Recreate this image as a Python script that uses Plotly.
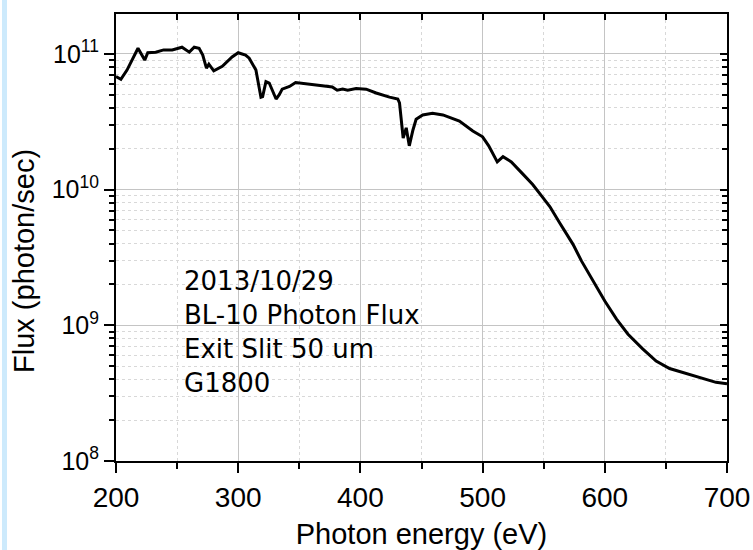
import plotly.graph_objects as go

energy_ev = [200, 204, 209, 218, 223.5, 226, 232.5, 239, 246, 254, 260, 264, 268, 271, 274, 276,
             280, 287, 295, 300, 306, 309, 314.5, 317, 318.6, 320, 322.7, 325.4, 328, 331, 333.6,
             336, 342, 347, 363.7, 377, 381, 385.5, 389.6, 396.5, 404.7, 412.9, 423.8, 430.6, 432,
             434, 435, 437.5, 440, 443, 445.6, 451, 459, 467.5, 481, 492, 500, 505, 512, 516.7,
             523.5, 533, 541, 549.5, 555, 563, 574, 581, 590.4, 600, 609.6, 619, 631, 642, 653,
             664, 680, 691, 700]
flux = [6.8e10, 6.5e10, 7.6e10, 1.10e11, 9.0e10, 1.02e11, 1.03e11, 1.07e11, 1.07e11, 1.12e11,
        1.03e11, 1.12e11, 1.10e11, 9.8e10, 7.85e10, 8.4e10, 7.5e10, 8.1e10, 9.5e10, 1.02e11,
        9.8e10, 9.3e10, 7.6e10, 5.75e10, 4.8e10, 4.85e10, 6.25e10, 6.1e10, 5.3e10, 4.65e10,
        5.0e10, 5.5e10, 5.75e10, 6.15e10, 5.9e10, 5.7e10, 5.4e10, 5.5e10, 5.4e10, 5.55e10,
        5.5e10, 5.15e10, 4.8e10, 4.65e10, 4.35e10, 3.1e10, 2.4e10, 2.85e10, 2.1e10, 2.75e10,
        3.3e10, 3.55e10, 3.65e10, 3.55e10, 3.2e10, 2.7e10, 2.45e10, 2.1e10, 1.6e10, 1.75e10,
        1.6e10, 1.3e10, 1.09e10, 8.7e9, 7.5e9, 5.7e9, 3.95e9, 2.97e9, 2.12e9, 1.51e9, 1.11e9,
        8.6e8, 6.7e8, 5.45e8, 4.8e8, 4.5e8, 4.1e8, 3.8e8, 3.7e8]

note_lines = ["2013/10/29", "BL-10 Photon Flux", "Exit Slit 50 um", "G1800"]
x_title = "Photon energy (eV)"
y_title = "Flux (photon/sec)"

x_major_vals = [200, 300, 400, 500, 600, 700]
x_minor_vals = [250, 350, 450, 550, 650]
x_all_vals = list(range(200, 701, 50))
y_major_vals = [1e8, 1e9, 1e10, 1e11]
y_major_text = ["10<sup>8</sup>", "10<sup>9</sup>", "10<sup>10</sup>", "10<sup>11</sup>"]
y_minor_vals = [k * 10 ** n for n in range(8, 11) for k in range(2, 10)]

fig = go.Figure()
fig.add_trace(go.Scatter(x=energy_ev, y=flux, mode="lines",
                         line=dict(color="black", width=3), showlegend=False,
                         hoverinfo="x+y"))
# invisible trace so the mirrored top/right axes (inward ticks) are drawn
fig.add_trace(go.Scatter(x=[200], y=[1e9], xaxis="x2", yaxis="y2", mode="markers",
                         marker=dict(opacity=0), showlegend=False, hoverinfo="skip"))

sans = "Liberation Sans, Arial, sans-serif"

fig.update_layout(
    width=753, height=550,
    margin=dict(l=116, r=26, t=14, b=89),
    paper_bgcolor="white", plot_bgcolor="white",
    xaxis=dict(range=[200, 700], tickmode="array", tickvals=x_major_vals,
               ticks="outside", ticklen=10, tickwidth=1.5, tickcolor="black",
               showline=True, linecolor="black", linewidth=2,
               showgrid=True, gridcolor="#c4c4c4", gridwidth=1.2,
               minor=dict(tickmode="array", tickvals=x_minor_vals, ticks="outside", ticklen=6,
                          tickwidth=1.5, tickcolor="black", showgrid=True,
                          gridcolor="#d8d8d8", griddash="dot", gridwidth=1),
               tickfont=dict(family=sans, size=28, color="black"), zeroline=False,
               automargin=False,
               title=dict(text=x_title, font=dict(family=sans, size=29, color="black"),
                          standoff=14)),
    yaxis=dict(type="log", range=[8, 11.294], tickmode="array", tickvals=y_major_vals,
               ticktext=y_major_text, ticks="outside", ticklen=10, tickwidth=1.5,
               tickcolor="black", showline=True, linecolor="black", linewidth=2,
               showgrid=True, gridcolor="#c4c4c4", gridwidth=1.2,
               minor=dict(tickmode="array", tickvals=y_minor_vals, ticks="outside", ticklen=5,
                          tickwidth=1.5, tickcolor="black", showgrid=True,
                          gridcolor="#d8d8d8", griddash="dot", gridwidth=1),
               tickfont=dict(family=sans, size=25, color="black"), zeroline=False,
               automargin=False),
    xaxis2=dict(overlaying="x", side="top", range=[200, 700], tickmode="array",
                tickvals=x_all_vals, ticks="inside", ticklen=6, tickwidth=1.5, tickcolor="black",
                showticklabels=False, showline=True, linecolor="black", linewidth=2,
                showgrid=False, zeroline=False, anchor="y2", automargin=False),
    yaxis2=dict(overlaying="y", side="right", type="log", range=[8, 11.294], tickmode="array",
                tickvals=y_major_vals, ticks="inside", ticklen=7, tickwidth=1.5, tickcolor="black",
                showticklabels=False, showline=True, linecolor="black", linewidth=2,
                showgrid=False,
                minor=dict(tickmode="array", tickvals=y_minor_vals, ticks="inside", ticklen=5,
                           tickwidth=1.5, tickcolor="black", showgrid=False),
                zeroline=False, anchor="x2", automargin=False),
)

# light blue strip at the left edge of the page
fig.add_shape(type="rect", xref="paper", yref="paper", x0=-0.1866, x1=-0.1784, y0=-0.21, y1=1.05,
              fillcolor="#cdeafc", line=dict(width=0), layer="below")

# y-axis title as a rotated annotation
fig.add_annotation(xref="paper", yref="paper", x=(24 - 116) / 611, y=(461 - 261) / 447,
                   text=y_title, textangle=-90, showarrow=False,
                   xanchor="center", yanchor="middle",
                   font=dict(family=sans, size=29, color="black"))

note_centers_px = [281, 315, 349, 383]
for line, cy in zip(note_lines, note_centers_px):
    fig.add_annotation(xref="paper", yref="paper", x=0.108, y=(461 - cy) / 447,
                       text=line, showarrow=False, xanchor="left", yanchor="middle",
                       font=dict(family="DejaVu Sans, Liberation Sans", size=26, color="black"))

fig.write_html("out.html")
